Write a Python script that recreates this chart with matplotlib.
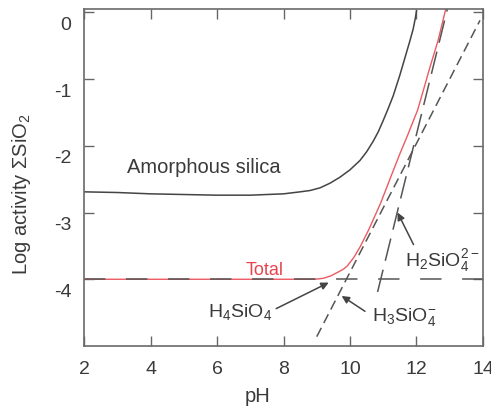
import matplotlib
matplotlib.use("Agg")
import matplotlib.pyplot as plt
import matplotlib.transforms as mtransforms

plt.rcParams['font.family'] = ['Liberation Sans', 'DejaVu Sans']
plt.rcParams['mathtext.default'] = 'regular'
plt.rcParams['axes.unicode_minus'] = False

# silica solubility vs pH (log activity)
ph_amorph = [2.0, 3.0, 4.0, 5.0, 6.0, 7.0, 8.0, 8.5, 8.8, 9.1, 9.4, 9.7, 10.0, 10.3,
             10.5, 10.7, 10.85, 11.0, 11.15, 11.3, 11.5, 11.7, 11.8, 11.9, 11.96, 12.0]
log_amorph = [-2.69, -2.70, -2.72, -2.73, -2.74, -2.74, -2.72, -2.69, -2.67, -2.63, -2.56,
              -2.47, -2.36, -2.22, -2.09, -1.93, -1.79, -1.62, -1.44, -1.25, -0.94, -0.60,
              -0.43, -0.25, -0.10, 0.02]

ph_total = [2.0, 8.9, 9.05, 9.2, 9.42, 9.65, 9.8, 9.92, 10.12, 10.32, 10.57, 10.75, 10.92,
            11.1, 11.31, 11.5, 11.71, 11.87, 12.03, 12.2, 12.4, 12.65, 12.88]
log_total = [-4.0, -4.0, -3.995, -3.985, -3.95, -3.89, -3.85, -3.80, -3.67, -3.50, -3.25,
             -3.05, -2.86, -2.63, -2.36, -2.12, -1.87, -1.67, -1.47, -1.18, -0.83, -0.42, 0.05]

ph_h4 = [2.0, 14.0]
log_h4 = [-4.0, -4.0]
ph_h3 = [9.0, 13.91]
log_h3 = [-4.86, -0.12]
ph_h2 = [10.83, 12.93]
log_h2 = [-4.19, 0.05]

xticks = [2, 4, 6, 8, 10, 12, 14]
yticks = [0, -1, -2, -3, -4]

fig = plt.figure(figsize=(4.91, 4.07), dpi=100)
ax = fig.add_axes([0.1711, 0.1499, 0.8126, 0.8280])

ink = '#3a3a3a'
ax.plot(ph_amorph, log_amorph, color='#444444', lw=1.1)
ax.plot(ph_total, log_total, color='#ec5a62', lw=1.0)
ax.plot(ph_h4, log_h4, color='#555555', lw=1.1, dashes=(14, 13.5))
ax.plot(ph_h3, log_h3, color='#555555', lw=1.1, dashes=(6.5, 3.5))
ax.plot(ph_h2, log_h2, color='#555555', lw=1.1, dashes=(15, 6))

ax.set_xlim(2, 14)
ax.set_ylim(-5, 0.05)
ax.set_xticks(xticks)
ax.set_yticks(yticks)
ax.tick_params(direction='in', length=7, width=1, color='#666666',
               top=True, right=True, labelsize=14, labelcolor=ink)
ax.tick_params(axis='x', pad=11)
ax.tick_params(axis='y', pad=9)
for s in ax.spines.values():
    s.set_color('#6a6a6a')
    s.set_linewidth(1.2)

# y labels sit a little below their ticks
shift = mtransforms.ScaledTranslation(0, -8 / 72, fig.dpi_scale_trans)
for lbl in ax.get_yticklabels():
    lbl.set_transform(lbl.get_transform() + shift)

ax.text(3.3, -2.41, 'Amorphous silica', fontsize=14.5, color=ink, va='baseline')
ax.text(6.85, -3.94, 'Total', fontsize=13, color='#e8454f', va='baseline')

arrow = dict(arrowstyle='-|>', color='#444444', lw=1.1, mutation_scale=11,
             shrinkA=0, shrinkB=0)
ax.text(5.72, -4.56, r'H$_4$SiO$_4$', fontsize=14, color=ink, va='baseline')
ax.annotate('', xy=(9.36, -4.05), xytext=(7.78, -4.44), arrowprops=arrow)
ax.text(10.65, -4.62, r'H$_3$SiO$_4^{-}$', fontsize=14, color=ink, va='baseline')
ax.annotate('', xy=(9.75, -4.25), xytext=(10.45, -4.48), arrowprops=arrow)
ax.text(11.66, -3.80, r'H$_2$SiO$_4^{2-}$', fontsize=14, color=ink, va='baseline')
ax.annotate('', xy=(11.43, -3.0), xytext=(11.91, -3.48), arrowprops=arrow)

fig.text(257.5 / 491, 1 - 396 / 407, 'pH', fontsize=14.5, color=ink,
         ha='center', va='center')
fig.text(22 / 491, 1 - 194 / 407, r'Log activity ΣSiO$_2$', fontsize=14.5,
         color=ink, ha='center', va='center', rotation=90)

fig.savefig('out.png', dpi=100)
